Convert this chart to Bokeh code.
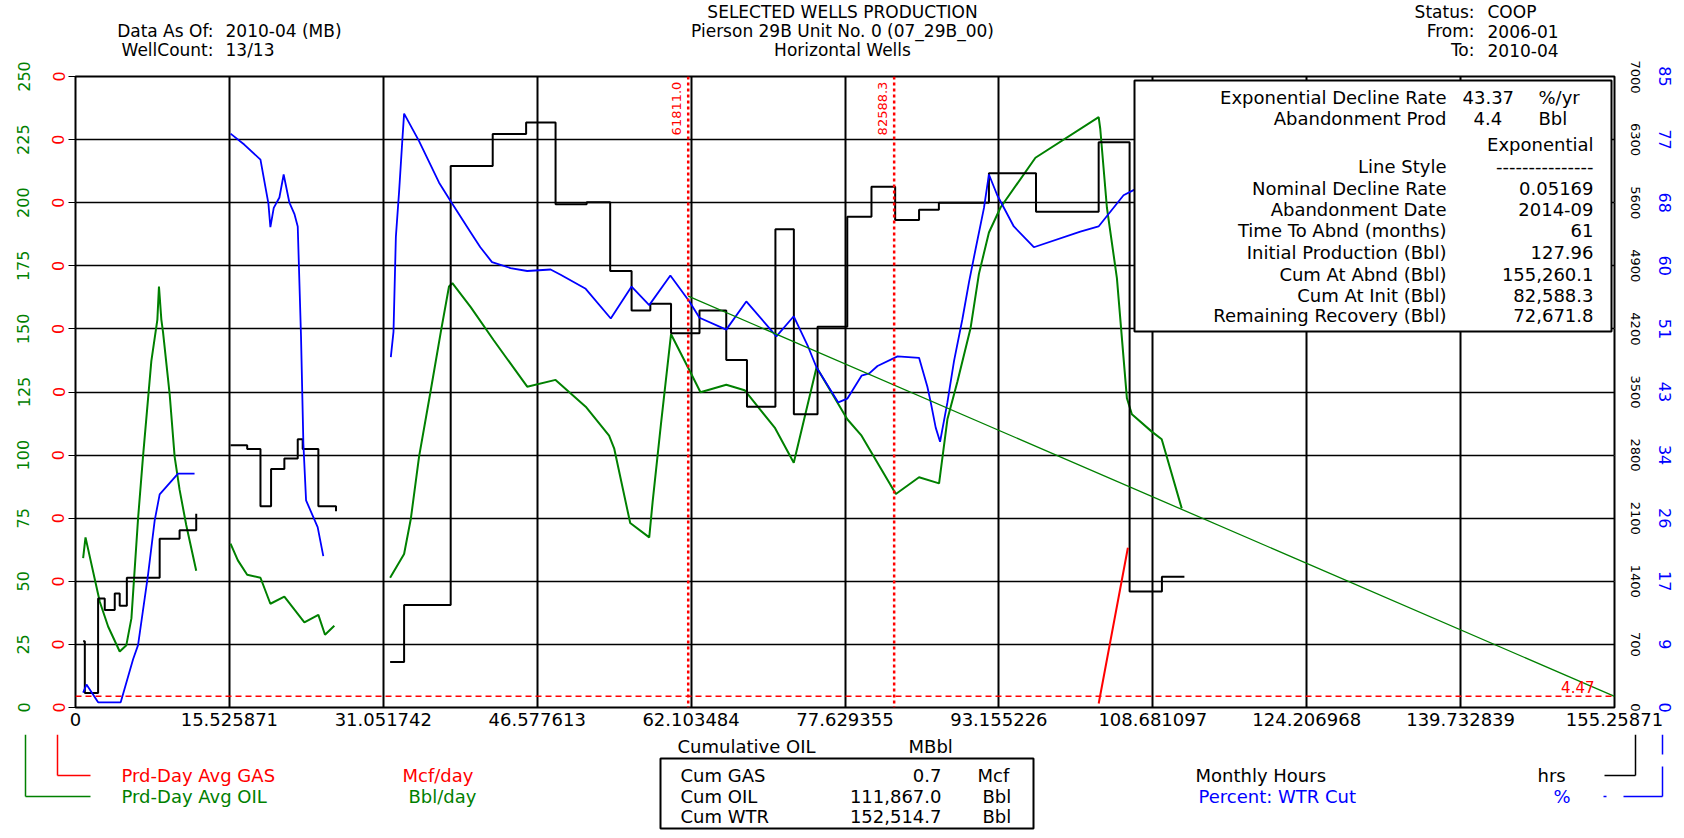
import math
from bokeh.plotting import figure
from bokeh.layouts import column
from bokeh.models import (Range1d, LinearAxis, FixedTicker, Grid, Span, Label,
                          BoxAnnotation, PrintfTickFormatter)
from bokeh.embed import file_html
from bokeh.resources import INLINE

# ---------------- data ----------------
x_ticks = [0, 15.525871, 31.051742, 46.577613, 62.103484, 77.629355,
           93.155226, 108.681097, 124.206968, 139.732839, 155.25871]
x_tick_labels = ["0", "15.525871", "31.051742", "46.577613", "62.103484", "77.629355",
                 "93.155226", "108.681097", "124.206968", "139.732839", "155.25871"]
oil_ticks = [0, 25, 50, 75, 100, 125, 150, 175, 200, 225, 250]
gas_ticks = [0, 0.025, 0.05, 0.075, 0.1, 0.125, 0.15, 0.175, 0.2, 0.225, 0.25]
hrs_ticks = [0, 700, 1400, 2100, 2800, 3500, 4200, 4900, 5600, 6300, 7000]
pct_ticks = [0, 8.5, 17, 25.5, 34, 42.5, 51, 59.5, 68, 76.5, 85]
pct_tick_labels = ["0", "9", "17", "26", "34", "43", "51", "60", "68", "77", "85"]

# Prd-Day Avg OIL (Bbl/day) vs cumulative oil (MBbl)
oil_seg1_x = [0.77, 1.01, 2.45, 3.29, 4.46, 5.13, 5.64, 6.31, 6.81, 7.65, 8.26, 8.42, 8.66,
              8.83, 9.5, 10.0, 10.5, 11.17, 12.18]
oil_seg1_y = [59.2, 67.4, 41.9, 32.1, 22.2, 24.7, 35.3, 74.8, 99.4, 137.2, 153.7, 166.8, 153.7,
              148.7, 124.1, 99.4, 86.3, 72.3, 54.2]
oil_seg2_x = [15.64, 16.38, 17.32, 18.66, 19.66, 21.07, 23.09, 24.5, 25.17, 26.11]
oil_seg2_y = [64.9, 58.3, 52.6, 51.4, 41.1, 43.9, 33.7, 36.7, 28.8, 32.4]
oil_seg3_x = [31.74, 33.15, 33.83, 34.66, 35.84, 36.85, 37.68, 38.02, 39.87, 42.19, 45.57, 48.43,
              51.47, 53.83, 54.34, 55.96, 57.88, 58.22, 59.07, 60.08, 62.1, 63.05, 65.65, 67.5,
              70.54, 72.46, 74.76, 77.86, 79.3, 82.76, 85.1, 87.12, 87.96, 88.96, 90.3, 91.14,
              92.15, 93.32, 96.84, 103.22, 103.38, 104.05, 105.06, 106.07, 106.57, 108.58,
              109.58, 111.6]
oil_seg3_y = [51.4, 60.8, 74.8, 99.4, 125.7, 148.7, 166.8, 168.1, 158.6, 145.5, 127.1, 129.8,
              119.2, 107.7, 102.7, 73.1, 67.4, 81.4, 112.6, 147.9, 132.3, 124.9, 127.9, 125.7,
              110.9, 97.0, 134.8, 114.2, 107.7, 84.6, 91.2, 88.8, 114.2, 129.0, 150.4, 171.8,
              188.2, 198.1, 217.8, 233.9, 229.3, 198.1, 170.1, 122.5, 116.2, 109.3,
              106.3, 78.9]

# exponential forecast (from cum 61811.0 to cum at abandonment 155260.1)
fc_x = [61.811, 155.2601]
fc_y = [163.0, 4.4]

# Prd-Day Avg GAS (Mcf/day)
gas_x = [103.22, 106.17]
gas_y = [0.0016, 0.0633]

# Monthly Hours (hrs), step series
hrs_seg1_x = [0.77, 0.94, 2.28, 2.95, 3.96, 4.46, 5.18, 8.49, 10.5, 12.18]
hrs_seg1_y = [736, 161, 1210, 1081, 1266, 1128, 1440, 1873, 1965, 2150]
hrs_seg2_x = [15.64, 17.32, 18.66, 19.73, 21.07, 22.42, 22.92, 24.5, 26.28]
hrs_seg2_y = [2909, 2867, 2232, 2646, 2761, 2977, 2867, 2232, 2177]
hrs_seg3_x = [31.74, 33.15, 37.85, 42.09, 45.46, 48.43, 51.57, 53.94, 56.1, 57.99, 60.08,
              62.95, 65.65, 67.74, 70.61, 72.47, 74.86, 77.86, 80.30, 82.69, 85.1, 87.1,
              92.15, 96.9, 103.22, 106.34, 109.6, 111.87]
hrs_seg3_y = [506, 1137, 6006, 6361, 6489, 5584, 5606, 4841, 4404, 4478, 4151,
              4404, 3856, 3336, 5306, 3254, 4225, 5444, 5776, 5407, 5523, 5600,
              5927, 5500, 6270, 1288, 1450, 1450]

# Percent: WTR Cut (%)
wtr_seg1_x = [0.77, 1.11, 2.28, 4.56, 5.81, 6.31, 7.32, 7.99, 8.49, 10.34, 12.01]
wtr_seg1_y = [2.0, 3.1, 0.7, 0.7, 6.5, 8.4, 17.9, 25.2, 28.7, 31.5, 31.5]
wtr_seg2_x = [15.64, 17.05, 18.66, 19.23, 19.46, 19.66, 20.0, 20.57, 21.0, 21.58, 22.08, 22.42,
              22.75, 22.99, 23.26, 24.43, 25.0]
wtr_seg2_y = [77.3, 75.8, 73.8, 69.6, 67.9, 64.7, 67.3, 68.7, 71.8, 68.0, 66.5, 64.8,
              50.0, 35.5, 27.9, 24.3, 20.4]
wtr_seg3_x = [31.81, 32.08, 32.32, 32.65, 32.99, 33.15, 34.66, 36.68, 37.85, 39.87, 40.84, 42.02,
              43.88, 45.57, 47.93, 48.94, 51.47, 54.0, 56.1, 57.88, 60.01, 61.93, 62.95, 65.65,
              67.67, 70.71, 72.46, 73.91, 74.76, 76.95, 77.86, 79.3, 80.08, 80.91, 82.93, 85.1,
              85.94, 86.28, 86.78, 87.22, 87.96, 88.63, 89.47, 90.14, 90.81, 91.65, 92.15, 92.99,
              94.66, 96.68, 101.37, 103.21, 105.73, 106.74, 108.0]
wtr_seg3_y = [47.2, 50.6, 63.4, 69.6, 76.8, 80.0, 76.3, 70.7, 68.2, 64.0, 62.0, 60.0,
              59.2, 58.8, 59.0, 58.3, 56.4, 52.4, 56.7, 54.2, 58.2, 54.7, 52.5, 50.9,
              54.7, 50.0, 52.7, 48.6, 45.8, 41.1, 41.6, 44.7, 45.0, 46.0, 47.3, 47.1,
              43.2, 41.1, 37.7, 35.8, 41.1, 46.7, 52.3, 57.3, 61.8, 67.3, 71.8, 69.0,
              64.8, 62.0, 64.1, 64.8, 69.0, 69.7, 70.5]

marker_cums = [61.811, 82.5883]
marker_labels = ["61811.0", "82588.3"]
abandon_rate = 4.47
abandon_label = "4.47"

header_left_keys = ["Data As Of:", "WellCount:"]
header_left_vals = ["2010-04 (MB)", "13/13"]
header_center = ["SELECTED WELLS PRODUCTION", "Pierson 29B Unit No. 0 (07_29B_00)", "Horizontal Wells"]
header_right_keys = ["Status:", "From:", "To:"]
header_right_vals = ["COOP", "2006-01", "2010-04"]

info_labels = ["Exponential Decline Rate", "Abandonment Prod", "", "Line Style",
               "Nominal Decline Rate", "Abandonment Date", "Time To Abnd (months)",
               "Initial Production (Bbl)", "Cum At Abnd (Bbl)", "Cum At Init (Bbl)",
               "Remaining Recovery (Bbl)"]
info_values = ["43.37", "4.4", "Exponential", "---------------", "0.05169", "2014-09", "61",
               "127.96", "155,260.1", "82,588.3", "72,671.8"]
info_units = ["%/yr", "Bbl"]

cum_names = ["Cum GAS", "Cum OIL", "Cum WTR"]
cum_values = ["0.7", "111,867.0", "152,514.7"]
cum_units = ["Mcf", "Bbl", "Bbl"]

# ---------------- layout (page pixel geometry) ----------------
W = 1684
HEAD_H = 60
FRAME_L, FRAME_R, FRAME_T, FRAME_B = 75, 1614, 76, 707
MAIN_TOP = FRAME_T - HEAD_H          # 16
MAIN_BOT = 27
MAIN_H = MAIN_TOP + (FRAME_B - FRAME_T) + MAIN_BOT
FOOT_Y0 = HEAD_H + MAIN_H            # 734
FOOT_H = 102
PW = FRAME_R - FRAME_L
PH = FRAME_B - FRAME_T
X_MAX = 155.25871
OIL_MAX = 250
FONT = "DejaVu Sans"
GREEN = "#008000"
BLUE = "#0000ff"
RED = "#ff0000"


def dx(px):
    return (px - FRAME_L) / PW * X_MAX


def dy(py):
    return (FRAME_B - py) / PH * OIL_MAX


# ---------------- main figure ----------------
p = figure(width=W, height=MAIN_H, output_backend="svg", toolbar_location=None,
           x_range=Range1d(0, X_MAX), y_range=Range1d(0, OIL_MAX),
           x_axis_location="below", y_axis_location=None,
           min_border_left=FRAME_L, min_border_right=W - FRAME_R,
           min_border_top=MAIN_TOP, min_border_bottom=MAIN_BOT)
p.frame_align = False
p.background_fill_color = "white"
p.border_fill_color = "white"
p.outline_line_color = "black"
p.outline_line_width = 2
p.extra_y_ranges = {"gas": Range1d(0, 0.25), "hrs": Range1d(0, 7000), "pct": Range1d(0, 85)}

xa = p.xaxis[0]
xa.ticker = FixedTicker(ticks=x_ticks)
xa.major_label_overrides = {t: s for t, s in zip(x_ticks, x_tick_labels)}
xa.axis_line_color = None
xa.major_tick_out = 0
xa.major_tick_in = 0
xa.minor_tick_out = 0
xa.minor_tick_in = 0
xa.major_label_standoff = 5
xa.major_label_text_font = FONT
xa.major_label_text_font_size = "18px"
xa.major_label_text_color = "black"
p.xgrid.ticker = FixedTicker(ticks=x_ticks)
p.xgrid.grid_line_color = "black"
p.xgrid.grid_line_width = 2

p.add_layout(Grid(dimension=1, ticker=FixedTicker(ticks=oil_ticks), grid_line_color="black",
                  grid_line_width=1.5))


def make_axis(rng, ticks, color, standoff, size, tick_out=0, tick_color=None, formatter=None,
              overrides=None):
    kw = dict(ticker=FixedTicker(ticks=ticks), major_label_orientation="vertical",
              axis_line_color=None, major_tick_out=tick_out, major_tick_in=0,
              minor_tick_out=0, minor_tick_in=0, major_tick_line_color=tick_color,
              major_label_standoff=standoff, major_label_text_color=color,
              major_label_text_font=FONT, major_label_text_font_size=f"{size}px")
    if rng is not None:
        kw["y_range_name"] = rng
    if formatter is not None:
        kw["formatter"] = formatter
    ax = LinearAxis(**kw)
    if overrides is not None:
        ax.major_label_overrides = overrides
    return ax


p.add_layout(make_axis("gas", gas_ticks, RED, 4, 16, tick_out=7, tick_color="black",
                       formatter=PrintfTickFormatter(format="%.0f")), "left")
p.add_layout(make_axis(None, oil_ticks, GREEN, 20, 16), "left")
p.add_layout(make_axis("hrs", hrs_ticks, "black", 16, 13), "right")
p.add_layout(make_axis("pct", pct_ticks, BLUE, 16, 16,
                       overrides={t: s for t, s in zip(pct_ticks, pct_tick_labels)}), "right")

for xs, ys in [(oil_seg1_x, oil_seg1_y), (oil_seg2_x, oil_seg2_y), (oil_seg3_x, oil_seg3_y)]:
    p.line(xs, ys, line_color=GREEN, line_width=2)
for xs, ys in [(hrs_seg1_x, hrs_seg1_y), (hrs_seg2_x, hrs_seg2_y), (hrs_seg3_x, hrs_seg3_y)]:
    p.step(xs, ys, mode="after", y_range_name="hrs", line_color="black", line_width=2)
for xs, ys in [(wtr_seg1_x, wtr_seg1_y), (wtr_seg2_x, wtr_seg2_y), (wtr_seg3_x, wtr_seg3_y)]:
    p.line(xs, ys, y_range_name="pct", line_color=BLUE, line_width=1.8)
p.line(fc_x, fc_y, line_color=GREEN, line_width=1.3)
p.line(gas_x, gas_y, y_range_name="gas", line_color=RED, line_width=2)

p.add_layout(Span(location=abandon_rate, dimension="width", line_color=RED,
                  line_dash="6 4", line_width=1.5))
for c, t in zip(marker_cums, marker_labels):
    p.add_layout(Span(location=c, dimension="height", line_color=RED,
                      line_dash="3 3", line_width=2.5))
    p.add_layout(Label(x=c, y=dy(108), x_offset=-12, text=t, angle=math.pi / 2,
                       text_align="center", text_baseline="middle", text_color=RED,
                       text_font=FONT, text_font_size="13px"))


def lab(fig, text, x, y, size, color="black", align="left"):
    fig.add_layout(Label(x=x, y=y, text=text, text_font=FONT,
                         text_font_size=f"{size}px", text_color=color, text_align=align,
                         text_baseline="middle"))


lab(p, abandon_label, dx(1594), dy(686), 15, RED, "right")

p.add_layout(BoxAnnotation(left=dx(1134), right=dx(1611), top=dy(80), bottom=dy(331),
                           fill_color="white", fill_alpha=1.0, line_color="black",
                           line_width=2, line_alpha=1.0))
info_rows = [96.7, 118.3, 144.3, 165.7, 188.3, 209, 230.3, 252.3, 274, 295, 315]
for i, (l, v) in enumerate(zip(info_labels, info_values)):
    yy = dy(info_rows[i])
    if l:
        lab(p, l, dx(1446), yy, 18, align="right")
    if i < 2:
        lab(p, v, dx(1462 if i == 0 else 1473), yy, 18)
        lab(p, info_units[i], dx(1538), yy, 18)
    else:
        lab(p, v, dx(1593), yy, 18, align="right")


# ---------------- header / footer figures (page pixel coordinates) ----------------
def pixfig(h, y0):
    f = figure(width=W, height=h, output_backend="svg", toolbar_location=None,
               x_range=Range1d(0, W), y_range=Range1d(y0 + h, y0),
               x_axis_location=None, y_axis_location=None, min_border=0,
               min_border_left=0, min_border_right=0, min_border_top=0, min_border_bottom=0)
    f.frame_align = False
    f.outline_line_color = None
    f.background_fill_color = "white"
    f.border_fill_color = "white"
    f.xgrid.visible = False
    f.ygrid.visible = False
    f.grid.grid_line_color = None
    return f


hd = pixfig(HEAD_H, 0)
hrows = [11, 30.5, 49.5]
for t, yy in zip(header_center, hrows):
    lab(hd, t, 842, yy, 17, align="center")
for k, v, yy in zip(header_left_keys, header_left_vals, hrows[1:]):
    lab(hd, k, 213, yy, 17, align="right")
    lab(hd, v, 225, yy, 17)
for k, v, yy in zip(header_right_keys, header_right_vals, hrows):
    lab(hd, k, 1474, yy, 17, align="right")
    lab(hd, v, 1487, yy, 17)

ft = pixfig(FOOT_H, FOOT_Y0)
lab(ft, "Cumulative OIL", 677, 746, 18)
lab(ft, "MBbl", 908, 746, 18)
lab(ft, "Prd-Day Avg GAS", 121, 775, 18, RED)
lab(ft, "Mcf/day", 402, 775, 18, RED)
lab(ft, "Prd-Day Avg OIL", 121, 796, 18, GREEN)
lab(ft, "Bbl/day", 408, 796, 18, GREEN)
lab(ft, "Monthly Hours", 1195, 775, 18)
lab(ft, "hrs", 1537, 775, 18)
lab(ft, "Percent: WTR Cut", 1198, 796, 18, BLUE)
lab(ft, "%", 1553, 796, 18, BLUE)

y_top = FOOT_Y0
ft.segment(x0=[57, 57], y0=[y_top, 775], x1=[57, 90], y1=[775, 775], line_color=RED, line_width=1.5)
ft.segment(x0=[25, 25], y0=[y_top, 796], x1=[25, 90], y1=[796, 796], line_color=GREEN, line_width=1.5)
ft.segment(x0=[1635, 1604], y0=[y_top, 775], x1=[1635, 1635], y1=[775, 775], line_color="black",
           line_width=1.5)
ft.segment(x0=[1662, 1662, 1623, 1603], y0=[y_top, 766, 796, 796],
           x1=[1662, 1662, 1662, 1606], y1=[754, 796, 796, 796], line_color=BLUE, line_width=1.5)

ft.quad(left=[660], right=[1033], top=[758], bottom=[828], fill_color=None,
        line_color="black", line_width=2)
for n, v, u, yy in zip(cum_names, cum_values, cum_units, [775, 796, 816]):
    lab(ft, n, 680, yy, 18)
    lab(ft, v, 941, yy, 18, align="right")
    lab(ft, u, 977 if u == "Mcf" else 982, yy, 18)

layout = column(hd, p, ft, spacing=0)
open("out.html", "w").write(file_html(layout, INLINE))
